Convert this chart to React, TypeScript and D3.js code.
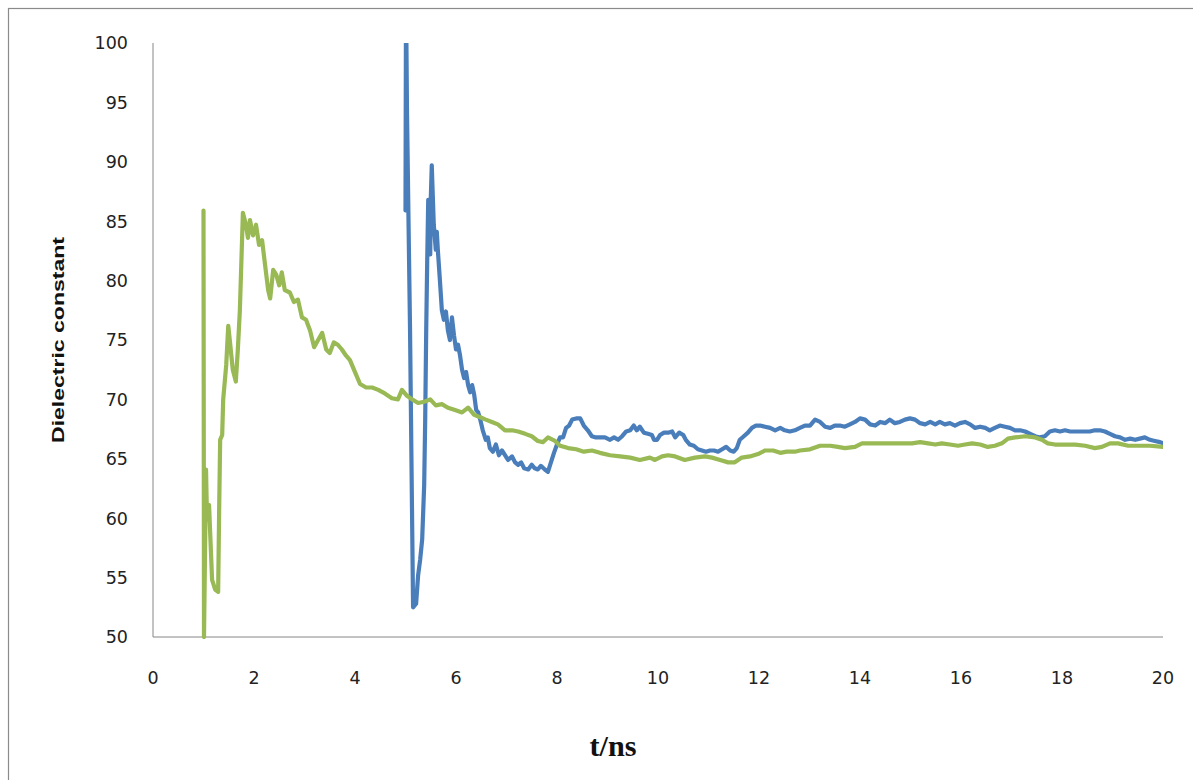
import React from "react";
import * as d3 from "d3";

// ---- data ----
const xTicks = [0, 2, 4, 6, 8, 10, 12, 14, 16, 18, 20];
const yTicks = [50, 55, 60, 65, 70, 75, 80, 85, 90, 95, 100];

const greenT = [1.0,1.01,1.05,1.07,1.11,1.17,1.23,1.29,1.31,1.33,1.37,1.39,1.45,1.49,1.52,1.58,1.64,1.68,1.72,1.78,1.84,1.88,1.92,1.98,2.04,2.1,2.16,2.22,2.28,2.32,2.38,2.44,2.5,2.55,2.61,2.71,2.79,2.87,2.95,3.03,3.11,3.19,3.27,3.35,3.43,3.5,3.58,3.66,3.74,3.82,3.9,4.0,4.1,4.22,4.34,4.46,4.59,4.73,4.85,4.93,5.03,5.13,5.25,5.37,5.49,5.6,5.72,5.84,5.98,6.12,6.24,6.36,6.48,6.59,6.71,6.83,6.97,7.11,7.23,7.37,7.5,7.62,7.72,7.82,7.96,8.06,8.22,8.38,8.53,8.69,8.85,9.05,9.25,9.45,9.64,9.84,9.94,10.08,10.2,10.34,10.53,10.73,10.93,11.07,11.23,11.39,11.52,11.66,11.82,11.98,12.12,12.28,12.42,12.55,12.71,12.81,13.01,13.21,13.41,13.56,13.7,13.9,14.04,14.2,14.36,14.5,14.69,14.89,15.03,15.19,15.35,15.49,15.62,15.78,15.94,16.08,16.22,16.38,16.53,16.67,16.81,16.93,17.07,17.27,17.47,17.6,17.72,17.86,18.06,18.26,18.46,18.65,18.79,18.95,19.11,19.31,19.54,19.74,20.0];
const greenV = [85.9,50.0,64.1,59.9,61.1,54.8,54.0,53.8,60.7,66.6,67.0,70.0,72.9,76.2,75.0,72.5,71.5,74.2,77.5,85.7,84.7,83.6,85.1,83.8,84.7,83.0,83.4,81.3,79.2,78.5,80.9,80.5,79.6,80.7,79.2,79.0,78.2,78.4,76.9,76.7,75.8,74.4,75.0,75.6,74.2,73.9,74.8,74.6,74.2,73.7,73.3,72.3,71.3,71.0,71.0,70.8,70.5,70.1,70.0,70.8,70.3,70.0,69.7,69.8,70.0,69.5,69.6,69.3,69.1,68.9,69.3,68.7,68.5,68.3,68.1,67.9,67.4,67.4,67.3,67.1,66.9,66.5,66.4,66.8,66.5,66.1,65.9,65.8,65.6,65.7,65.5,65.3,65.2,65.1,64.9,65.1,64.9,65.2,65.3,65.2,64.9,65.1,65.2,65.1,64.9,64.7,64.7,65.1,65.2,65.4,65.7,65.7,65.5,65.6,65.6,65.7,65.8,66.1,66.1,66.0,65.9,66.0,66.3,66.3,66.3,66.3,66.3,66.3,66.3,66.4,66.3,66.2,66.3,66.2,66.1,66.2,66.3,66.2,66.0,66.1,66.3,66.7,66.8,66.9,66.8,66.6,66.3,66.2,66.2,66.2,66.1,65.9,66.0,66.3,66.3,66.1,66.1,66.1,66.0];

const blueT = [5.0,5.01,5.03,5.09,5.15,5.21,5.25,5.29,5.33,5.37,5.39,5.41,5.43,5.45,5.47,5.49,5.5,5.52,5.54,5.56,5.6,5.62,5.64,5.68,5.72,5.76,5.8,5.84,5.88,5.92,5.96,6.0,6.04,6.08,6.12,6.16,6.2,6.24,6.28,6.32,6.36,6.4,6.44,6.48,6.53,6.59,6.63,6.67,6.73,6.79,6.85,6.91,6.97,7.03,7.11,7.17,7.23,7.29,7.35,7.43,7.5,7.56,7.62,7.68,7.76,7.82,7.88,7.94,8.0,8.06,8.12,8.18,8.24,8.3,8.38,8.46,8.53,8.61,8.69,8.77,8.85,8.95,9.05,9.13,9.21,9.29,9.37,9.45,9.52,9.58,9.64,9.72,9.8,9.88,9.92,9.98,10.04,10.12,10.2,10.28,10.34,10.42,10.5,10.55,10.63,10.71,10.79,10.87,10.95,11.03,11.11,11.19,11.27,11.35,11.43,11.5,11.56,11.62,11.7,11.78,11.86,11.94,12.02,12.12,12.22,12.32,12.42,12.51,12.61,12.71,12.81,12.91,13.01,13.11,13.21,13.31,13.41,13.5,13.6,13.7,13.8,13.9,14.0,14.1,14.2,14.3,14.4,14.5,14.59,14.69,14.79,14.89,14.99,15.09,15.19,15.29,15.39,15.49,15.58,15.68,15.78,15.88,15.98,16.08,16.18,16.28,16.38,16.48,16.57,16.67,16.77,16.87,16.97,17.07,17.17,17.27,17.37,17.47,17.56,17.66,17.76,17.86,17.96,18.06,18.16,18.26,18.36,18.46,18.55,18.65,18.75,18.85,18.95,19.05,19.15,19.25,19.35,19.45,19.54,19.64,19.74,19.84,19.94,20.0];
const blueV = [85.9,104.0,94.1,75.8,52.5,52.8,55.2,56.5,58.2,62.8,68.3,75.8,81.7,86.8,84.7,82.2,86.8,89.7,87.2,84.7,82.6,84.1,82.6,80.1,77.5,76.7,77.4,75.8,75.0,76.9,75.4,74.2,74.6,73.7,72.5,71.8,72.3,71.2,70.6,71.2,70.4,69.1,68.9,68.3,67.4,66.6,66.8,65.9,65.6,66.2,65.3,65.7,65.3,64.9,65.2,64.7,64.5,64.7,64.2,64.1,64.5,64.2,64.1,64.4,64.1,63.9,64.7,65.5,66.2,66.8,66.8,67.6,67.8,68.3,68.4,68.4,67.8,67.4,66.9,66.8,66.8,66.8,66.6,66.8,66.6,66.9,67.3,67.4,67.8,67.4,67.7,67.2,67.1,67.0,66.6,66.6,67.0,67.2,67.2,67.3,66.8,67.2,67.0,66.6,66.2,66.1,65.8,65.7,65.6,65.7,65.7,65.6,65.8,66.0,65.7,65.6,65.9,66.6,66.9,67.2,67.6,67.8,67.8,67.7,67.6,67.4,67.6,67.4,67.3,67.4,67.6,67.8,67.8,68.3,68.1,67.7,67.6,67.8,67.8,67.7,67.9,68.1,68.4,68.3,67.9,67.8,68.1,68.0,68.3,68.0,68.1,68.3,68.4,68.3,68.0,67.9,68.1,67.9,68.1,67.9,68.0,67.8,68.0,68.1,67.9,67.6,67.7,67.6,67.4,67.6,67.8,67.7,67.6,67.4,67.4,67.3,67.1,66.9,66.8,66.9,67.3,67.4,67.3,67.4,67.3,67.3,67.3,67.3,67.3,67.4,67.4,67.3,67.1,66.9,66.8,66.6,66.7,66.6,66.7,66.8,66.6,66.5,66.4,66.3];

const BLUE = "#4a7ebb";
const GREEN = "#98b954";

export default function App() {
  const left = 153, right = 1163, top = 43, bottom = 637;
  const x = d3.scaleLinear().domain([0, 20]).range([left, right]);
  const y = d3.scaleLinear().domain([50, 100]).range([bottom, top]);
  const line = d3.line<[number, number]>().x((d) => x(d[0])).y((d) => y(d[1]));
  const green = line(greenT.map((t, i) => [t, greenV[i]] as [number, number])) || "";
  const blue = line(blueT.map((t, i) => [t, blueV[i]] as [number, number])) || "";

  return (
    <svg width={1193} height={780} style={{ position: "absolute", left: 0, top: 0, background: "#fff" }}>
      <defs>
        <clipPath id="plot">
          <rect x={left} y={top} width={right - left} height={bottom - top + 2} />
        </clipPath>
      </defs>
      <rect x={8.5} y={8.5} width={1200} height={800} fill="#fff" stroke="#8a8a8a" strokeWidth={1.2} />
      {/* axes */}
      <line x1={left} y1={top} x2={left} y2={bottom} stroke="#868686" strokeWidth={1} />
      <line x1={left} y1={bottom} x2={right} y2={bottom} stroke="#868686" strokeWidth={1} />
      {yTicks.map((v) => (
        <text key={"y" + v} x={128} y={y(v)} dy="0.36em" textAnchor="end" fontFamily="DejaVu Sans" fontSize={17.5} fill="#222">
          {v}
        </text>
      ))}
      {xTicks.map((v) => (
        <text key={"x" + v} x={x(v)} y={684} textAnchor="middle" fontFamily="DejaVu Sans" fontSize={17.5} fill="#222">
          {v}
        </text>
      ))}
      <text
        transform="translate(64,340) rotate(-90)"
        textAnchor="middle"
        fontFamily="Liberation Sans"
        fontWeight="bold"
        fontSize={17}
        textLength={206}
        lengthAdjust="spacingAndGlyphs"
        fill="#111"
      >
        Dielectric constant
      </text>
      <text x={613} y={756} textAnchor="middle" fontFamily="Liberation Serif" fontWeight="bold" fontSize={30} textLength={47} lengthAdjust="spacingAndGlyphs" fill="#111">
        t/ns
      </text>
      <g clipPath="url(#plot)" fill="none" strokeWidth={4.2} strokeLinejoin="round" strokeLinecap="round">
        <path d={blue} stroke={BLUE} />
        <path d={green} stroke={GREEN} />
      </g>
    </svg>
  );
}
